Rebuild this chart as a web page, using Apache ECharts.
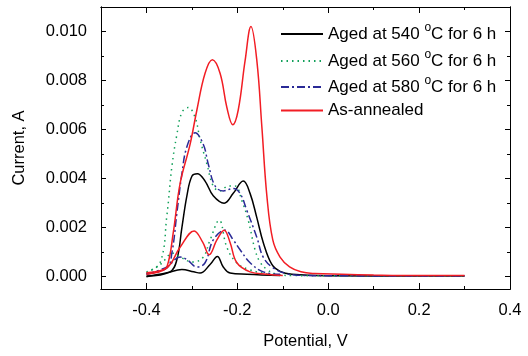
<!doctype html>
<html>

	<head>
		<meta charset="UTF-8">
		<title>Current vs Potential</title>
		<script src="https://cdn.jsdelivr.net/npm/echarts@6/dist/echarts.min.js"></script>
		<style>
			html,
			body {
				margin: 0;
				padding: 0;
				background: #fff;
			}

			#chart {
				width: 528px;
				height: 356px;
			}
		</style>
	</head>

	<body>
		<div id="chart"></div>

		<script type="text/javascript">
			// tick values
			var xMajor = [-0.4, -0.2, 0.0, 0.2, 0.4];
			var xMinor = [-0.5, -0.3, -0.1, 0.1, 0.3];
			var yMajor = [0.000, 0.002, 0.004, 0.006, 0.008, 0.010];
			var yMinor = [0.001, 0.003, 0.005, 0.007, 0.009, 0.011];

			var names = ['Aged at 540 °C for 6 h', 'Aged at 560 °C for 6 h', 'Aged at 580 °C for 6 h', 'As-annealed'];

			// 540 °C (upper and lower branch)
			var blackUpX = [-0.4, -0.348, -0.333, -0.322, -0.311, -0.300, -0.288, -0.271, -0.253, -0.229, -0.209, -0.187, -0.172, -0.157, -0.143, -0.124, -0.106, -0.08, 0.0, 0.3];
			var blackUpY = [0.00003, 0.0002, 0.0007, 0.002, 0.0033, 0.0041, 0.0042, 0.0039, 0.0033, 0.003, 0.0034, 0.0039, 0.0034, 0.0024, 0.0014, 0.0005, 0.00022, 0.0001, 0.00004, 0.00003];
			var blackLowX = [-0.4, -0.355, -0.322, -0.296, -0.282, -0.260, -0.244, -0.231, -0.216, -0.179, -0.106];
			var blackLowY = [0.0, 0.00016, 0.0003, 0.0002, 0.00015, 0.0005, 0.00083, 0.0004, 0.00015, 0.0001, 0.00005];

			// 560 °C
			var greenUpX = [-0.4, -0.37, -0.355, -0.344, -0.333, -0.322, -0.308, -0.293, -0.282, -0.267, -0.253, -0.238, -0.220, -0.205, -0.190, -0.176, -0.161, -0.150, -0.135, -0.113, -0.08, 0.0, 0.3];
			var greenUpY = [0.0002, 0.00057, 0.0025, 0.0045, 0.0058, 0.0067, 0.0069, 0.0065, 0.0056, 0.0046, 0.0037, 0.0035, 0.0037, 0.0037, 0.0031, 0.0023, 0.0011, 0.0006, 0.0003, 0.0001, 0.00005, 0.00004, 0.00003];
			var greenLowX = [-0.4, -0.37, -0.341, -0.326, -0.297, -0.275, -0.26, -0.240, -0.223, -0.201, -0.172, -0.128, -0.1];
			var greenLowY = [0.00015, 0.00049, 0.00096, 0.0008, 0.0006, 0.0008, 0.0015, 0.0023, 0.0012, 0.00056, 0.00028, 0.0001, 0.00005];

			// 580 °C
			var blueUpX = [-0.4, -0.355, -0.344, -0.333, -0.322, -0.311, -0.293, -0.275, -0.264, -0.249, -0.231, -0.209, -0.194, -0.179, -0.157, -0.143, -0.121, -0.091, -0.06, 0.0, 0.3];
			var blueUpY = [0.00012, 0.00036, 0.00097, 0.0026, 0.0042, 0.0053, 0.00587, 0.0054, 0.0046, 0.0037, 0.0035, 0.0036, 0.0034, 0.0027, 0.0016, 0.0008, 0.00036, 0.00012, 0.00006, 0.00004, 0.00003];
			var blueLowX = [-0.4, -0.355, -0.326, -0.311, -0.289, -0.271, -0.253, -0.227, -0.209, -0.194, -0.172, -0.143, -0.106];
			var blueLowY = [0.0001, 0.0004, 0.0008, 0.0007, 0.0004, 0.00057, 0.0015, 0.0019, 0.0015, 0.0011, 0.00057, 0.0002, 0.0001];

			// as-annealed
			var redUpX = [-0.4, -0.37, -0.355, -0.341, -0.326, -0.304, -0.289, -0.271, -0.255, -0.238, -0.223, -0.210, -0.198, -0.183, -0.170, -0.157, -0.146, -0.135, -0.122, -0.106, -0.085, -0.06, -0.03, 0.03, 0.1, 0.2, 0.3];
			var redUpY = [0.00016, 0.00025, 0.0004, 0.0018, 0.0038, 0.0054, 0.0068, 0.0083, 0.00885, 0.0083, 0.0069, 0.0062, 0.0068, 0.0088, 0.0102, 0.0088, 0.0061, 0.0033, 0.0015, 0.0008, 0.0004, 0.0002, 0.00013, 0.0001, 0.00007, 0.00005, 0.00005];
			var redLowX = [-0.4, -0.355, -0.326, -0.295, -0.276, -0.262, -0.245, -0.229, -0.216, -0.201, -0.172, -0.135, -0.1];
			var redLowY = [0.0001, 0.00036, 0.0012, 0.00187, 0.0014, 0.0009, 0.0015, 0.0019, 0.0014, 0.00057, 0.0002, 0.0001, 0.00005];

			function pairs(xs, ys) {
				var arr = new Array();
				for(var i = 0; i < xs.length; i++) {
					arr[i] = [xs[i], ys[i]];
				}
				return arr;
			}

			var fontName = 'Liberation Sans';

			function tickAxis(pos, values, len, idx) {
				var a = {
					type: 'value',
					position: pos,
					min: idx == 'x' ? -0.5 : -0.0005,
					max: idx == 'x' ? 0.4 : 0.011,
					axisLine: {
						show: true,
						onZero: false,
						lineStyle: {
							color: '#000',
							width: 1
						}
					},
					axisTick: {
						show: true,
						inside: true,
						length: len,
						customValues: values,
						lineStyle: {
							color: '#000'
						}
					},
					axisLabel: {
						show: false
					},
					splitLine: {
						show: false
					}
				};
				return a;
			}

			function lineSeries(name, data, color, type) {
				return {
					name: name,
					type: 'line',
					data: data,
					smooth: 0.4,
					symbol: 'none',
					lineStyle: {
						color: color,
						width: 1.5,
						type: type
					},
					itemStyle: {
						color: color
					}
				};
			}

			var colors = ['#000000', '#12a05a', '#2a2a96', '#f21d24'];
			var styles = ['solid', [1.5, 4], [8, 3, 2, 3], 'solid'];

			var xMain = tickAxis('bottom', xMajor, 6, 'x');
			xMain.axisLabel = {
				show: true,
				customValues: xMajor,
				margin: 13,
				color: '#000',
				fontFamily: fontName,
				fontSize: 16.5,
				formatter: function(v) {
					return v.toFixed(1);
				}
			};
			xMain.name = 'Potential, V';
			xMain.nameLocation = 'middle';
			xMain.nameGap = 44;
			xMain.nameTextStyle = {
				color: '#000',
				fontFamily: fontName,
				fontSize: 16.5
			};

			var yMain = tickAxis('left', yMajor, 5, 'y');
			yMain.axisLabel = {
				show: true,
				customValues: yMajor,
				margin: 14,
				color: '#000',
				fontFamily: fontName,
				fontSize: 16.5,
				formatter: function(v) {
					return v.toFixed(3);
				}
			};
			yMain.name = 'Current, A';
			yMain.nameLocation = 'middle';
			yMain.nameGap = 73;
			yMain.nameTextStyle = {
				color: '#000',
				fontFamily: fontName,
				fontSize: 16.5
			};

			var series = [
				lineSeries(names[0], pairs(blackUpX, blackUpY), colors[0], styles[0]),
				lineSeries(names[0], pairs(blackLowX, blackLowY), colors[0], styles[0]),
				lineSeries(names[1], pairs(greenUpX, greenUpY), colors[1], styles[1]),
				lineSeries(names[1], pairs(greenLowX, greenLowY), colors[1], styles[1]),
				lineSeries(names[2], pairs(blueUpX, blueUpY), colors[2], styles[2]),
				lineSeries(names[2], pairs(blueLowX, blueLowY), colors[2], styles[2]),
				lineSeries(names[3], pairs(redUpX, redUpY), colors[3], styles[3]),
				lineSeries(names[3], pairs(redLowX, redLowY), colors[3], styles[3])
			];

			// one legend per row so the rows can be placed like the original
			var legendTops = [22, 49, 75, 102];
			var legends = new Array();
			for(var k = 0; k < names.length; k++) {
				legends[k] = {
					data: [names[k]],
					left: 280,
					top: legendTops[k],
					padding: 0,
					itemWidth: 42,
					itemHeight: 14,
					itemStyle: {
						opacity: 0
					},
					formatter: function(n) {
						return n.replace('°', '{sup|o}');
					},
					textStyle: {
						color: '#000',
						fontFamily: fontName,
						fontSize: 17,
						rich: {
							sup: {
								fontSize: 12,
								fontFamily: fontName,
								color: '#000',
								padding: [0, 0, 12, 0]
							}
						}
					}
				};
			}

			var option = {
				animation: false,
				backgroundColor: '#fff',
				grid: {
					left: 101,
					right: 18,
					top: 7,
					bottom: 67
				},
				legend: legends,
				xAxis: [
					xMain,
					tickAxis('bottom', xMinor, 3, 'x'),
					tickAxis('top', xMajor, 6, 'x'),
					tickAxis('top', xMinor, 3, 'x')
				],
				yAxis: [
					yMain,
					tickAxis('left', yMinor, 3, 'y'),
					tickAxis('right', yMajor, 5, 'y'),
					tickAxis('right', yMinor, 3, 'y')
				],
				series: series
			};

			var chart = echarts.init(document.getElementById('chart'));
			chart.setOption(option);
		</script>
	</body>

</html>
